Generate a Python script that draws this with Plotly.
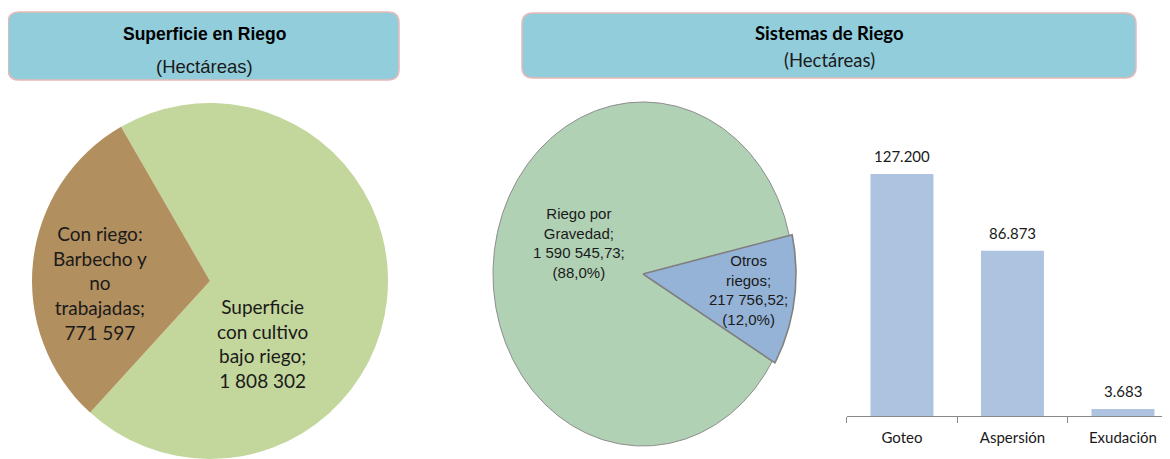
import numpy as np
import plotly.graph_objects as go

# ---------------- data ----------------
sup_labels = ["Superficie<br>con cultivo<br>bajo riego", "Con riego:<br>Barbecho y<br>no<br>trabajadas"]
sup_values = [1808302, 771597]
sup_colors = ["#C3D69B", "#B28F5E"]

sis_labels = ["Riego por<br>Gravedad", "Otros<br>riegos"]
sis_values = [1590545.73, 217756.52]
sis_colors = ["#B1D1B5", "#95B3D7"]

bar_cats = ["Goteo", "Aspersión", "Exudación"]
bar_values = [127200, 86873, 3683]
bar_color = "#AEC3DF"

title_left = ["Superficie en Riego", "(Hectáreas)"]
title_right = ["Sistemas de Riego", "(Hectáreas)"]

# page has an 8px body margin: figure is sized to fit the window after it
OFF = 8
PW, PH = 1170, 459          # window size (reference pixel frame)
W, H = PW - OFF, PH - OFF   # figure size
ARIAL = "Arial, Liberation Sans, sans-serif"
CALIBRI = "Lato, Carlito, Calibri, sans-serif"


def fx(X):
    return (X - OFF) / W


def fy(Y):
    return (PH - Y) / H


def fmt_int(v):
    return f"{v:,.0f}".replace(",", " ")


def fmt_dec(v):
    return f"{v:,.2f}".replace(",", " ").replace(".", ",")


def fmt_dot(v):
    return f"{v:,.0f}".replace(",", ".")


def fmt_pct(p):
    return f"({p:.1f}%)".replace(".", ",")


def rounded_rect(x0, y0, x1, y1, r):
    return (f"M {x0+r},{y0} L {x1-r},{y0} Q {x1},{y0} {x1},{y0+r} "
            f"L {x1},{y1-r} Q {x1},{y1} {x1-r},{y1} L {x0+r},{y1} "
            f"Q {x0},{y1} {x0},{y1-r} L {x0},{y0+r} Q {x0},{y0} {x0+r},{y0} Z")


fig = go.Figure()

# ---------------- left pie ----------------
fig.add_trace(go.Pie(
    labels=sup_labels, values=sup_values, sort=False,
    direction="clockwise", rotation=-30,
    marker=dict(colors=sup_colors, line=dict(width=0)),
    textinfo="none", hoverinfo="label+value", showlegend=False,
    domain=dict(x=[fx(32), fx(388)], y=[0, fy(103)]),
))

# ---------------- right pie (elliptical, drawn on a pixel axis) ----------------
cx, cy, rx, ry = 643, 274, 150, 172
total = sum(sis_values)
fracs = [v / total for v in sis_values]
start_blue = 12.9  # degrees, math convention
blue_span = fracs[1] * 360
green_span = fracs[0] * 360
g_t = np.radians(np.linspace(start_blue, start_blue + green_span, 400))
b_t = np.radians(np.linspace(start_blue - blue_span, start_blue, 80))

gx = np.concatenate([[cx], cx + rx * np.cos(g_t), [cx]])
gy = np.concatenate([[cy], cy - ry * np.sin(g_t), [cy]])
k = 1.02
bx = np.concatenate([[cx], cx + k * rx * np.cos(b_t), [cx]])
by = np.concatenate([[cy], cy - k * ry * np.sin(b_t), [cy]])

fig.add_trace(go.Scatter(x=gx, y=gy, mode="lines", fill="toself",
                         fillcolor=sis_colors[0], line=dict(color="#8C8C8C", width=1),
                         xaxis="x2", yaxis="y2", showlegend=False, hoverinfo="skip"))
fig.add_trace(go.Scatter(x=bx, y=by, mode="lines", fill="toself",
                         fillcolor=sis_colors[1], line=dict(color="#808080", width=1.6),
                         xaxis="x2", yaxis="y2", showlegend=False, hoverinfo="skip"))

# ---------------- bars ----------------
fig.add_trace(go.Bar(x=bar_cats, y=bar_values, marker=dict(color=bar_color, line=dict(width=0)),
                     width=0.57, xaxis="x3", yaxis="y3", showlegend=False))

annotations = []
for c, v in zip(bar_cats, bar_values):
    annotations.append(dict(x=c, y=v, xref="x3", yref="y3", text=fmt_dot(v),
                            showarrow=False, yanchor="middle", yshift=18,
                            font=dict(family=CALIBRI, size=15, color="#1a1a1a")))

# pie 1 labels
sup_pos = [(262, 343), (100, 283)]
for lab, v, (px, py) in zip(sup_labels, sup_values, sup_pos):
    annotations.append(dict(x=px, y=py, xref="x2", yref="y2",
                            text=f"{lab};<br>{fmt_int(v)}", showarrow=False,
                            font=dict(family=CALIBRI, size=19, color="#1a1a1a"), align="center"))

# pie 2 labels
sis_pos = [(579, 243), (748, 290)]
for lab, v, f, (px, py) in zip(sis_labels, sis_values, fracs, sis_pos):
    annotations.append(dict(x=px, y=py, xref="x2", yref="y2",
                            text=f"{lab};<br>{fmt_dec(v)};<br>{fmt_pct(f*100)}", showarrow=False,
                            font=dict(family=ARIAL, size=15, color="#1a1a1a"), align="center"))

# titles
annotations.append(dict(x=204, y=34, xref="x2", yref="y2", text=f"<b>{title_left[0]}</b>",
                        showarrow=False, font=dict(family=ARIAL, size=17.5, color="#000000")))
annotations.append(dict(x=204, y=66, xref="x2", yref="y2", text=title_left[1],
                        showarrow=False, font=dict(family=ARIAL, size=18.5, color="#1a1a1a")))
annotations.append(dict(x=829, y=33, xref="x2", yref="y2", text=f"<b>{title_right[0]}</b>",
                        showarrow=False, font=dict(family=CALIBRI, size=18.5, color="#000000")))
annotations.append(dict(x=829, y=60, xref="x2", yref="y2", text=title_right[1],
                        showarrow=False, font=dict(family=CALIBRI, size=18.5, color="#1a1a1a")))

shapes = [
    dict(type="path", path=rounded_rect(8, 12, 399, 80, 11), xref="x2", yref="y2",
         fillcolor="#92CDDC", line=dict(color="#E6B9B8", width=1.5), layer="below"),
    dict(type="path", path=rounded_rect(522, 13, 1136, 78, 11), xref="x2", yref="y2",
         fillcolor="#92CDDC", line=dict(color="#E6B9B8", width=1.5), layer="below"),
]

fig.update_layout(
    width=W, height=H,
    margin=dict(l=0, r=0, t=0, b=0),
    paper_bgcolor="white", plot_bgcolor="rgba(0,0,0,0)",
    xaxis2=dict(domain=[0, 1], range=[OFF, PW], visible=False, anchor="y2", fixedrange=True),
    yaxis2=dict(domain=[0, 1], range=[PH, OFF], visible=False, anchor="x2", fixedrange=True),
    xaxis3=dict(domain=[fx(846.7), 1], range=[-0.5, -0.5 + (PW - 846.7) / 110.5],
                type="category", anchor="y3", showline=True, linecolor="#898989", linewidth=1,
                ticks="outside", tickson="boundaries", ticklen=6, tickcolor="#898989",
                showgrid=False, zeroline=False, ticklabelstandoff=8,
                tickfont=dict(family=CALIBRI, size=15, color="#1a1a1a")),
    yaxis3=dict(domain=[fy(416), fy(140)], range=[0, 276 / 242 * 127200],
                visible=False, anchor="x3"),
    annotations=annotations, shapes=shapes,
)

fig.write_html("out.html")
